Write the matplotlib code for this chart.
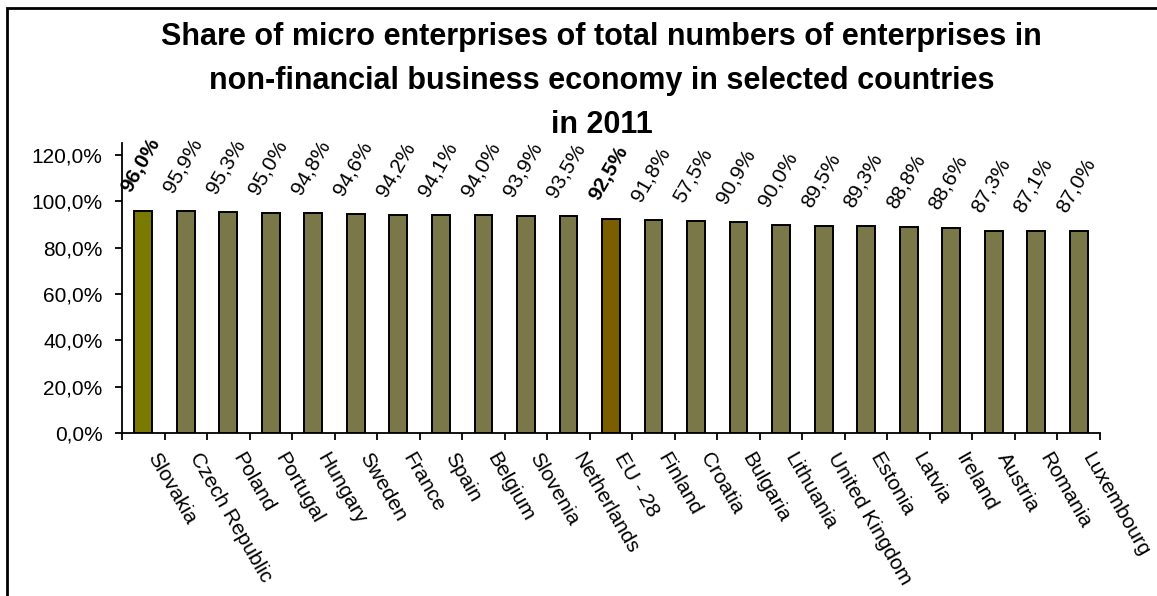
import matplotlib
matplotlib.use("Agg")
import matplotlib.pyplot as plt
from matplotlib.patches import Rectangle
from matplotlib.ticker import FixedLocator, NullFormatter, FixedFormatter

plt.rcParams['font.family'] = ['Liberation Sans', 'DejaVu Sans']

countries = ["Slovakia", "Czech Republic", "Poland", "Portugal", "Hungary", "Sweden",
             "France", "Spain", "Belgium", "Slovenia", "Netherlands", "EU - 28",
             "Finland", "Croatia", "Bulgaria", "Lithuania", "United Kingdom",
             "Estonia", "Latvia", "Ireland", "Austria", "Romania", "Luxembourg"]
values = [96.0, 95.9, 95.3, 95.0, 94.8, 94.6, 94.2, 94.1, 94.0, 93.9, 93.5, 92.5,
          91.8, 91.7, 90.9, 90.0, 89.5, 89.3, 88.8, 88.6, 87.3, 87.1, 87.0]
value_labels = ["96,0%", "95,9%", "95,3%", "95,0%", "94,8%", "94,6%", "94,2%", "94,1%",
                "94,0%", "93,9%", "93,5%", "92,5%", "91,8%", "57,5%", "90,9%", "90,0%",
                "89,5%", "89,3%", "88,8%", "88,6%", "87,3%", "87,1%", "87,0%"]
bold_labels = ["Slovakia", "EU - 28"]
y_ticks = [0, 20, 40, 60, 80, 100, 120]
y_tick_labels = ["0,0%", "20,0%", "40,0%", "60,0%", "80,0%", "100,0%", "120,0%"]

title = ("Share of micro enterprises of total numbers of enterprises in\n"
         "non-financial business economy in selected countries\n"
         "in 2011")

W, H = 1157, 596
fig = plt.figure(figsize=(W / 100, H / 100), dpi=100)
ax = fig.add_axes([122 / W, 1 - 433 / H, (1100 - 122) / W, (433 - 143) / H])

colors = []
for c in countries:
    if c == "Slovakia":
        colors.append("#7a7a00")
    elif c == "EU - 28":
        colors.append("#7a5e00")
    else:
        colors.append("#7a7848")

x = list(range(len(countries)))
ax.bar(x, values, width=0.42, color=colors, edgecolor="black", linewidth=1.4, zorder=3)

ax.set_xlim(-0.5, len(countries) - 0.5)
ax.set_ylim(0, 125.2)

FS = 15
ax.yaxis.set_major_locator(FixedLocator(y_ticks))
ax.yaxis.set_major_formatter(FixedFormatter(y_tick_labels))
ax.tick_params(axis='y', direction='out', length=5, width=1.3, labelsize=FS, pad=9)

ax.xaxis.set_major_locator(FixedLocator([i - 0.5 for i in range(len(countries) + 1)]))
ax.xaxis.set_major_formatter(NullFormatter())
ax.xaxis.set_minor_locator(FixedLocator(x))
ax.xaxis.set_minor_formatter(FixedFormatter(countries))
ax.tick_params(axis='x', which='major', direction='out', length=5, width=1.3)
ax.tick_params(axis='x', which='minor', length=0, pad=19, labelsize=FS)
for lbl in ax.xaxis.get_minorticklabels():
    lbl.set_rotation(-60)
    lbl.set_ha('left')
    lbl.set_va('bottom')
    lbl.set_rotation_mode('anchor')

for s in ['top', 'right']:
    ax.spines[s].set_visible(False)
for s in ['left', 'bottom']:
    ax.spines[s].set_linewidth(1.3)

for xi, v, lab, c in zip(x, values, value_labels, countries):
    ax.annotate(lab, xy=(xi, v), xytext=(-2, 11), textcoords='offset points',
                rotation=60, ha='center', va='bottom', fontsize=FS,
                fontweight='bold' if c in bold_labels else 'normal')

fig.text(0.52, 1 - 22 / H, title, ha='center', va='top', fontsize=22,
         fontweight='bold', linespacing=1.6)

fig.patches.append(Rectangle((6.5 / W, -0.1), 2, 1.1 - 7.5 / H, transform=fig.transFigure,
                             fill=False, edgecolor='black', linewidth=2))

fig.savefig("out.png", dpi=100)
